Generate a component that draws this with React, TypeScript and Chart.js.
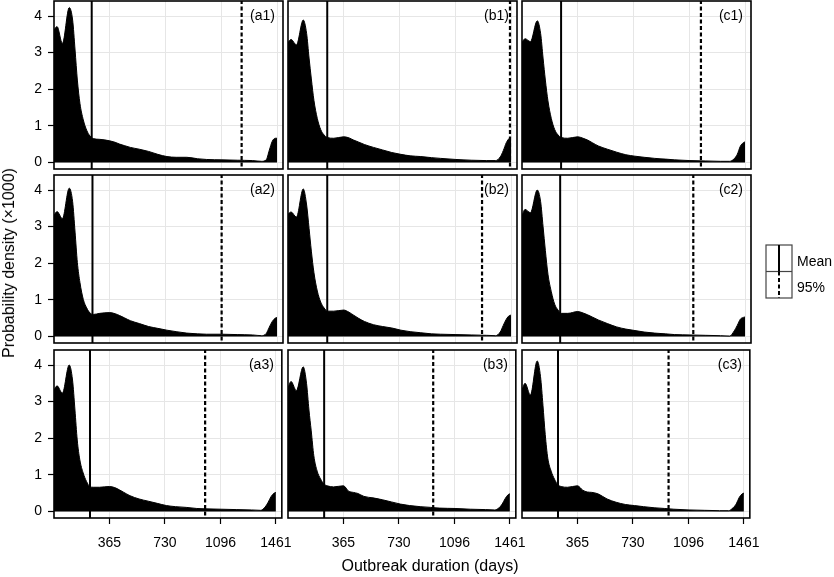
import React, { useEffect, useRef } from "react";
import { Chart, registerables } from "chart.js";
Chart.register(...registerables);

// ---------- data ----------
const days = [0, 20, 55, 100, 122, 138, 153, 170, 192, 214, 236, 258, 300, 365, 400, 430, 460, 500, 560, 620, 680, 740, 800, 870, 940, 1000, 1100, 1200, 1300, 1360, 1390, 1410, 1430, 1450, 1461];

const densityA1 = [3.62, 3.71, 3.25, 4.23, 3.89, 3.07, 2.25, 1.61, 1.16, 0.88, 0.72, 0.65, 0.63, 0.59, 0.55, 0.50, 0.46, 0.41, 0.36, 0.30, 0.22, 0.16, 0.14, 0.14, 0.10, 0.08, 0.07, 0.06, 0.05, 0.03, 0.07, 0.33, 0.58, 0.66, 0.66];
const densityB1 = [3.28, 3.36, 3.21, 3.89, 3.52, 2.85, 2.28, 1.69, 1.20, 0.90, 0.75, 0.68, 0.66, 0.70, 0.67, 0.61, 0.56, 0.49, 0.41, 0.34, 0.27, 0.22, 0.18, 0.16, 0.13, 0.11, 0.08, 0.06, 0.05, 0.05, 0.15, 0.32, 0.54, 0.66, 0.68];
const densityC1 = [3.28, 3.38, 3.30, 3.87, 3.52, 2.85, 2.25, 1.68, 1.20, 0.90, 0.75, 0.68, 0.66, 0.70, 0.66, 0.61, 0.54, 0.45, 0.36, 0.28, 0.21, 0.17, 0.14, 0.11, 0.09, 0.07, 0.05, 0.04, 0.03, 0.03, 0.10, 0.22, 0.44, 0.54, 0.56];
const densityA2 = [3.31, 3.41, 3.22, 4.05, 3.68, 2.85, 2.02, 1.47, 1.01, 0.78, 0.64, 0.60, 0.63, 0.65, 0.62, 0.57, 0.51, 0.43, 0.35, 0.27, 0.22, 0.17, 0.13, 0.09, 0.07, 0.06, 0.06, 0.05, 0.04, 0.02, 0.08, 0.25, 0.41, 0.50, 0.52];
const densityB2 = [3.34, 3.40, 3.26, 4.03, 3.59, 2.95, 2.33, 1.74, 1.24, 0.94, 0.78, 0.69, 0.69, 0.72, 0.66, 0.58, 0.50, 0.41, 0.32, 0.27, 0.23, 0.17, 0.13, 0.10, 0.07, 0.06, 0.05, 0.04, 0.03, 0.02, 0.12, 0.30, 0.47, 0.57, 0.58];
const densityC2 = [3.31, 3.47, 3.38, 4.00, 3.68, 3.00, 2.35, 1.70, 1.22, 0.88, 0.72, 0.63, 0.63, 0.68, 0.64, 0.59, 0.53, 0.45, 0.35, 0.26, 0.20, 0.16, 0.12, 0.09, 0.07, 0.05, 0.04, 0.03, 0.02, 0.01, 0.15, 0.30, 0.47, 0.52, 0.53];
const densityA3 = [3.32, 3.43, 3.23, 4.00, 3.59, 2.77, 1.95, 1.41, 1.05, 0.82, 0.68, 0.66, 0.66, 0.68, 0.65, 0.59, 0.52, 0.43, 0.34, 0.28, 0.22, 0.16, 0.13, 0.11, 0.08, 0.07, 0.06, 0.05, 0.04, 0.03, 0.12, 0.25, 0.41, 0.50, 0.52];
const densityB3 = [3.38, 3.55, 3.30, 3.95, 3.50, 2.77, 2.20, 1.52, 1.10, 0.89, 0.75, 0.70, 0.67, 0.70, 0.55, 0.52, 0.49, 0.41, 0.37, 0.32, 0.26, 0.20, 0.16, 0.13, 0.11, 0.09, 0.08, 0.06, 0.05, 0.04, 0.10, 0.20, 0.35, 0.46, 0.48];
const densityC3 = [3.32, 3.50, 3.18, 4.11, 3.68, 2.90, 2.10, 1.45, 1.10, 0.88, 0.73, 0.68, 0.66, 0.70, 0.58, 0.53, 0.52, 0.48, 0.34, 0.25, 0.19, 0.16, 0.13, 0.10, 0.08, 0.06, 0.04, 0.03, 0.02, 0.02, 0.10, 0.20, 0.38, 0.48, 0.50];

const panelLabels = ["(a1)", "(b1)", "(c1)", "(a2)", "(b2)", "(c2)", "(a3)", "(b3)", "(c3)"];
const meanDays = [247, 257, 256, 252, 257, 250, 237, 238, 237];
const p95Days = [1229, 1454, 1172, 1098, 1271, 1122, 995, 956, 965];

const xTicks = [365, 730, 1096, 1461];
const yTicks = [0, 1, 2, 3, 4];

const xTitle = "Outbreak duration (days)";
const yTitle = "Probability density (\u00d71000)";
const legendLabels = ["Mean", "95%"];

const densities = [densityA1, densityB1, densityC1, densityA2, densityB2, densityC2, densityA3, densityB3, densityC3];

// ---------- layout ----------
const FONT = "'Liberation Sans', Arial, Helvetica, sans-serif";
const COL_LEFT = [54, 288, 522];
const ROW_TOP = [1, 175, 350];
const PW = 229;
const PH = 168;
const X_MIN = 0, X_MAX = 1500;
const Y_MIN = -0.18, Y_MAX = 4.41;

Chart.defaults.color = "#000";
Chart.defaults.font.family = FONT;

const framePlugin = {
  id: "frameAndLabel",
  afterDraw(chart: any) {
    const { ctx, chartArea } = chart;
    const label = chart.options.plugins.frameAndLabel.label;
    ctx.save();
    ctx.strokeStyle = "#000";
    ctx.lineWidth = 1.6;
    ctx.strokeRect(chartArea.left, chartArea.top, chartArea.right - chartArea.left, chartArea.bottom - chartArea.top);
    ctx.fillStyle = "#000";
    ctx.font = "14px " + FONT;
    ctx.textAlign = "right";
    ctx.textBaseline = "middle";
    ctx.fillText(label, chartArea.right - 8, chartArea.top + 15);
    ctx.restore();
  },
};

function Panel({ idx }: { idx: number }) {
  const ref = useRef<HTMLCanvasElement>(null);
  const row = Math.floor(idx / 3);
  const col = idx % 3;
  const padL = col === 0 ? COL_LEFT[0] : 4;
  const padT = col === 0 ? 18 : 4;
  const padR = row === 2 ? 20 : 4;
  const padB = row === 2 ? 40 : col === 0 ? 18 : 4;
  const w = PW + padL + padR;
  const h = PH + padT + padB;
  const left = COL_LEFT[col] - padL;
  const top = ROW_TOP[row] - padT;

  useEffect(() => {
    const vals = densities[idx];
    const m = meanDays[idx];
    const p = p95Days[idx];
    const chart = new Chart(ref.current as HTMLCanvasElement, {
      type: "line",
      data: {
        datasets: [
          {
            data: days.map((d, j) => ({ x: d, y: vals[j] })),
            fill: "origin",
            backgroundColor: "#000",
            borderColor: "#000",
            borderWidth: 1,
            pointRadius: 0,
            cubicInterpolationMode: "monotone",
          },
          {
            data: [{ x: m, y: -1 }, { x: m, y: 5 }],
            borderColor: "#000",
            borderWidth: 2,
            pointRadius: 0,
            fill: false,
          },
          {
            data: [{ x: p, y: -1 }, { x: p, y: 5 }],
            borderColor: "#000",
            borderWidth: 2.2,
            borderDash: [4, 2.5],
            pointRadius: 0,
            fill: false,
          },
        ],
      } as any,
      options: {
        responsive: false,
        animation: false,
        events: [],
        layout: {
          padding: {
            left: col === 0 ? 0 : padL,
            right: padR,
            top: padT,
            bottom: row === 2 ? 0 : padB,
          },
        },
        plugins: {
          legend: { display: false },
          tooltip: { enabled: false },
          frameAndLabel: { label: panelLabels[idx] },
        } as any,
        scales: {
          x: {
            type: "linear",
            min: X_MIN,
            max: X_MAX,
            afterBuildTicks: (s: any) => {
              s.ticks = xTicks.map((v) => ({ value: v }));
            },
            afterFit: (s: any) => {
              s.height = row === 2 ? 40 : 0;
            },
            border: { display: false },
            grid: {
              color: "#e6e6e6",
              lineWidth: 1,
              drawTicks: row === 2,
              tickLength: 6,
              tickColor: "#000",
              tickWidth: 1.2,
            },
            ticks: {
              display: row === 2,
              autoSkip: false,
              maxRotation: 0,
              padding: 11,
              font: { size: 14, family: FONT },
              color: "#000",
              callback: (v: any) => String(v),
            },
          },
          y: {
            type: "linear",
            min: Y_MIN,
            max: Y_MAX,
            afterBuildTicks: (s: any) => {
              s.ticks = yTicks.map((v) => ({ value: v }));
            },
            afterFit: (s: any) => {
              s.width = col === 0 ? COL_LEFT[0] : 0;
            },
            border: { display: false },
            grid: {
              color: "#e6e6e6",
              lineWidth: 1,
              drawTicks: col === 0,
              tickLength: 6,
              tickColor: "#000",
              tickWidth: 1.2,
            },
            ticks: {
              display: col === 0,
              autoSkip: false,
              padding: 6,
              font: { size: 14, family: FONT },
              color: "#000",
              callback: (v: any) => String(v),
            },
          },
        },
      } as any,
      plugins: [framePlugin],
    });
    return () => chart.destroy();
  }, [idx]);

  return (
    <canvas
      ref={ref}
      width={w}
      height={h}
      style={{ position: "absolute", left, top, width: w, height: h }}
    />
  );
}

function Legend() {
  const bx = 765.5, by = 245, bw = 26, bh = 53;
  return (
    <>
      <svg
        width={bw + 2}
        height={bh + 2}
        style={{ position: "absolute", left: bx - 1, top: by - 1 }}
      >
        <rect x={1} y={1} width={bw} height={bh} fill="#fff" stroke="#444" strokeWidth={1.2} />
        <line x1={1} y1={1 + bh / 2} x2={1 + bw} y2={1 + bh / 2} stroke="#444" strokeWidth={1.2} />
        <line x1={1 + bw / 2} y1={1} x2={1 + bw / 2} y2={1 + bh / 2} stroke="#000" strokeWidth={2} />
        <line x1={1 + bw / 2} y1={1 + bh / 2} x2={1 + bw / 2} y2={1 + bh} stroke="#000" strokeWidth={2} strokeDasharray="4 2.5" />
      </svg>
      <div style={{ position: "absolute", left: 797, top: 261, transform: "translateY(-50%)", font: "14px " + FONT, color: "#000", whiteSpace: "nowrap" }}>
        {legendLabels[0]}
      </div>
      <div style={{ position: "absolute", left: 797, top: 287, transform: "translateY(-50%)", font: "14px " + FONT, color: "#000", whiteSpace: "nowrap" }}>
        {legendLabels[1]}
      </div>
    </>
  );
}

export default function App() {
  return (
    <div style={{ position: "absolute", left: 0, top: 0, width: 834, height: 577, background: "#fff", overflow: "hidden" }}>
      {panelLabels.map((_, i) => (
        <Panel key={i} idx={i} />
      ))}
      <div
        style={{
          position: "absolute",
          left: 9,
          top: 263,
          transform: "translate(-50%, -50%) rotate(-90deg)",
          font: "16px " + FONT,
          color: "#000",
          whiteSpace: "nowrap",
        }}
      >
        {yTitle}
      </div>
      <div
        style={{
          position: "absolute",
          left: 430,
          top: 566,
          transform: "translate(-50%, -50%)",
          font: "16px " + FONT,
          color: "#000",
          whiteSpace: "nowrap",
        }}
      >
        {xTitle}
      </div>
      <Legend />
    </div>
  );
}
